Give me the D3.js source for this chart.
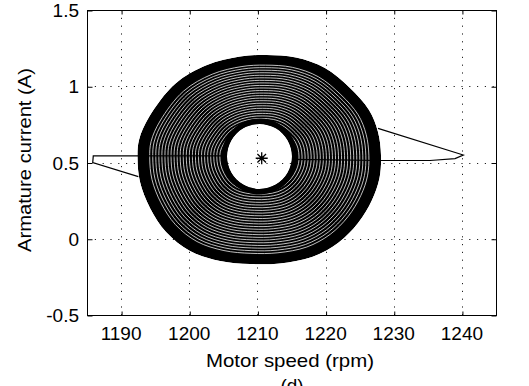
<!DOCTYPE html>
<html>
<head>
<meta charset="utf-8">
<script src="https://cdn.jsdelivr.net/npm/d3@7"></script>
<style>
  html, body { margin: 0; padding: 0; background: #fff; }
  svg { display: block; }
  text { font-family: "Liberation Sans", Arial, Helvetica, sans-serif; fill: #000; }
</style>
</head>
<body>
<svg id="chart" width="529" height="386"></svg>
<script>
// Phase portrait of the drive: armature current against motor speed.

const xTicks = [1190, 1200, 1210, 1220, 1230, 1240];
const yTicks = [-0.5, 0, 0.5, 1, 1.5];
const yTickLabels = ["-0.5", "0", "0.5", "1", "1.5"];

// Outer envelope of the densely wound steady-state orbit (rpm, A)
const outerSpeed   = [1211.26, 1207.45, 1202.60, 1197.91, 1194.10, 1192.63, 1192.41, 1192.78, 1194.24, 1196.59,
                      1200.11, 1204.51, 1208.91, 1213.31, 1218.01, 1221.82, 1224.76, 1226.81, 1227.91, 1228.13,
                      1227.69, 1226.37, 1223.58, 1219.91, 1215.66];
const outerCurrent = [1.205, 1.195, 1.139, 1.015, 0.798, 0.648, 0.530, 0.372, 0.202, 0.044,
                      -0.080, -0.146, -0.166, -0.162, -0.120, -0.028, 0.103, 0.254, 0.398, 0.549,
                      0.700, 0.844, 0.989, 1.120, 1.189];

// Inner hole of the orbit band, around the operating point
const innerSpeed   = [1210.31, 1212.69, 1214.43, 1215.07, 1214.43, 1212.69, 1210.31, 1207.92, 1206.18, 1205.54, 1206.18, 1207.92];
const innerCurrent = [0.752, 0.724, 0.646, 0.539, 0.433, 0.355, 0.326, 0.355, 0.433, 0.539, 0.646, 0.724];
const holeCentre   = [1210.31, 0.539];

// Start-up excursions to the left and right of the band
const leftSpeed    = [1192.53, 1185.84, 1185.92, 1205.49];
const leftCurrent  = [0.407, 0.499, 0.543, 0.543];
const rightSpeed   = [1215.07, 1228.13, 1235.32, 1238.99, 1240.20, 1227.69];
const rightCurrent = [0.521, 0.513, 0.513, 0.526, 0.549, 0.724];

// Operating point
const opSpeed   = [1210.63];
const opCurrent = [0.528];

const svg = d3.select("#chart");
const plotL = 87, plotR = 496, plotT = 10, plotB = 315;

const x = d3.scaleLinear().domain([1185, 1245]).range([plotL, plotR]);
const y = d3.scaleLinear().domain([-0.5, 1.5]).range([plotB, plotT]);

const pts = (xs, ys) => xs.map((v, i) => [x(v), y(ys[i])]);
const closedCurve = d3.line().curve(d3.curveCatmullRomClosed.alpha(0.5));
const polyline = d3.line();

const outerD = closedCurve(pts(outerSpeed, outerCurrent));
const innerD = closedCurve(pts(innerSpeed, innerCurrent));
const ringD = outerD + innerD;

// Dotted grid
const grid = svg.append("g")
  .attr("stroke", "#222").attr("stroke-width", 1).attr("stroke-dasharray", "1.2,6.6");
grid.selectAll("line.v").data(xTicks).join("line")
  .attr("x1", d => Math.round(x(d)) + 0.5).attr("x2", d => Math.round(x(d)) + 0.5)
  .attr("y1", plotT).attr("y2", plotB);
grid.selectAll("line.h").data(yTicks.slice(1, -1)).join("line")
  .attr("x1", plotL).attr("x2", plotR)
  .attr("y1", d => Math.round(y(d)) + 0.5).attr("y2", d => Math.round(y(d)) + 0.5);

// Orbit band
const defs = svg.append("defs");
defs.append("clipPath").attr("id", "ringClip")
  .append("path").attr("d", ringD).attr("clip-rule", "evenodd");

const ring = svg.append("g").attr("clip-path", "url(#ringClip)");
ring.append("path").attr("d", ringD).attr("fill", "#000").attr("fill-rule", "evenodd");

// fine light gaps between the windings: the envelope shrunk toward the hole centre
const cx0 = x(holeCentre[0]), cy0 = y(holeCentre[1]);
const windingScales = d3.range(0.30, 0.915, 0.025);
ring.selectAll("path.gap").data(windingScales).join("path")
  .attr("d", outerD)
  .attr("transform", k => `translate(${cx0},${cy0}) scale(${k}) translate(${-cx0},${-cy0})`)
  .attr("vector-effect", "non-scaling-stroke")
  .attr("fill", "none").attr("stroke", "#fff").attr("stroke-width", 0.75);
// tight windings hugging the hole
ring.append("path").attr("d", innerD).attr("fill", "none")
  .attr("stroke", "#000").attr("stroke-width", 11);

// Start-up excursions
svg.append("path").attr("d", polyline(pts(leftSpeed, leftCurrent)))
  .attr("fill", "none").attr("stroke", "#000").attr("stroke-width", 1.2);
svg.append("path").attr("d", polyline(pts(rightSpeed, rightCurrent)))
  .attr("fill", "none").attr("stroke", "#000").attr("stroke-width", 1.2);

// Operating point, asterisk marker
svg.selectAll("path.op").data(pts(opSpeed, opCurrent)).join("path")
  .attr("d", ([cx, cy]) => `M${cx - 6},${cy}h12M${cx},${cy - 6}v12M${cx - 4.3},${cy - 4.3}l8.6,8.6M${cx - 4.3},${cy + 4.3}l8.6,-8.6`)
  .attr("stroke", "#000").attr("stroke-width", 1.3).attr("fill", "none");
svg.selectAll("circle.op").data(pts(opSpeed, opCurrent)).join("circle")
  .attr("cx", d => d[0]).attr("cy", d => d[1]).attr("r", 2).attr("fill", "#000");

// Axes box with inward ticks on all sides
const axes = svg.append("g");
axes.append("rect").attr("x", plotL + 0.5).attr("y", plotT + 0.5)
  .attr("width", plotR - plotL).attr("height", plotB - plotT)
  .attr("fill", "none").attr("stroke", "#000").attr("stroke-width", 1);

const xAxisB = d3.axisBottom(x).tickValues(xTicks).tickSize(-4).tickFormat("");
const xAxisT = d3.axisTop(x).tickValues(xTicks).tickSize(-4).tickFormat("");
const yAxisL = d3.axisLeft(y).tickValues(yTicks).tickSize(-5).tickFormat("");
const yAxisR = d3.axisRight(y).tickValues(yTicks).tickSize(-5).tickFormat("");
[[xAxisB, `translate(0.5,${plotB + 0.5})`], [xAxisT, `translate(0.5,${plotT + 0.5})`],
 [yAxisL, `translate(${plotL + 0.5},0.5)`], [yAxisR, `translate(${plotR + 0.5},0.5)`]]
  .forEach(([ax, tr]) => {
    const g = axes.append("g").attr("transform", tr).call(ax);
    g.select(".domain").remove();
    g.selectAll("line").attr("stroke", "#000");
  });

// Tick labels
svg.append("g").selectAll("text").data(xTicks).join("text")
  .attr("x", d => x(d)).attr("y", 339.5)
  .attr("text-anchor", "middle").style("font-size", "19px")
  .text(d => d);
svg.append("g").selectAll("text").data(yTicks).join("text")
  .attr("x", 79).attr("y", d => y(d) + 7)
  .attr("text-anchor", "end").style("font-size", "19px")
  .text((d, i) => yTickLabels[i]);

// Axis titles
svg.append("text").attr("x", 290).attr("y", 366.5)
  .attr("text-anchor", "middle").style("font-size", "19px")
  .attr("textLength", 168).attr("lengthAdjust", "spacingAndGlyphs")
  .text("Motor speed (rpm)");
svg.append("text").attr("transform", "translate(31,160) rotate(-90)")
  .attr("text-anchor", "middle").style("font-size", "19px")
  .attr("textLength", 184).attr("lengthAdjust", "spacingAndGlyphs")
  .text("Armature current (A)");

// Panel tag, sitting at the foot of the figure
svg.append("text").attr("x", 292).attr("y", 392)
  .attr("text-anchor", "middle").style("font-size", "19px")
  .text("(d)");
</script>
</body>
</html>
